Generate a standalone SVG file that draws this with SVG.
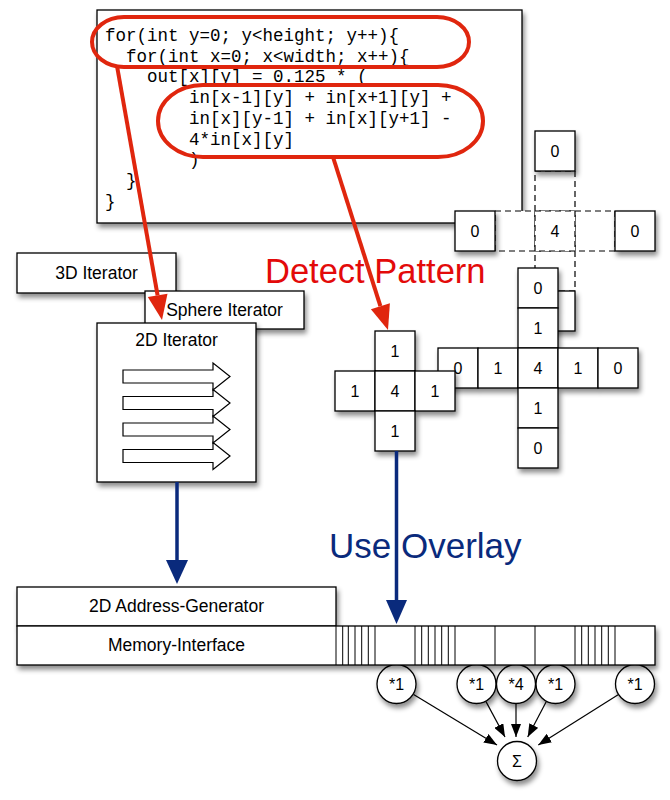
<svg xmlns="http://www.w3.org/2000/svg" width="670" height="800" viewBox="0 0 670 800">
<defs>
<filter id="sh" x="-20%" y="-20%" width="150%" height="150%">
<feDropShadow dx="2" dy="4" stdDeviation="2.5" flood-color="#000" flood-opacity="0.45"/>
</filter>
<marker id="ah" markerUnits="userSpaceOnUse" markerWidth="14" markerHeight="10" refX="13" refY="5" orient="auto">
<path d="M0,0 L13,5 L0,10 z" fill="#000"/>
</marker>
</defs>
<style>
.box{fill:#fff;stroke:#000;stroke-width:1.3}
.cell{fill:#fff;stroke:#000;stroke-width:1.3}
.dash{fill:#fff;stroke:#000;stroke-width:1.2;stroke-dasharray:6 4}
.lbl{font-family:"Liberation Sans",Arial,sans-serif;font-size:17.5px;text-anchor:middle;fill:#000}
.num{font-family:"Liberation Sans",Arial,sans-serif;font-size:16px;text-anchor:middle;fill:#000}
.code{font-family:"Liberation Mono","Courier New",monospace;font-size:17.5px;fill:#000}
.red{stroke:#e0260e;stroke-width:4;fill:none}
.blue{stroke:#0a2a7c;stroke-width:3.5;fill:none}
.strip{stroke:#000;stroke-width:1}
.thin{stroke:#000;stroke-width:1.2;fill:none}
</style>

<g id="code">
<rect class="box" x="97" y="10" width="425" height="213" filter="url(#sh)"/>
<text class="code" x="105" y="41">for(int y=0; y&lt;height; y++){</text>
<text class="code" x="126" y="61.7">for(int x=0; x&lt;width; x++){</text>
<text class="code" x="147" y="82.4">out[x][y] = 0.125 * (</text>
<text class="code" x="189" y="103.1">in[x-1][y] + in[x+1][y] +</text>
<text class="code" x="189" y="123.8">in[x][y-1] + in[x][y+1] -</text>
<text class="code" x="189" y="144.5">4*in[x][y]</text>
<text class="code" x="189" y="165.2">)</text>
<text class="code" x="126" y="185.9">}</text>
<text class="code" x="105" y="206.6">}</text>
</g>

<g id="cross3d">
<rect class="dash" x="535" y="171" width="40" height="40"/>
<rect class="dash" x="495" y="211" width="40" height="40"/>
<rect class="dash" x="575" y="211" width="40" height="40"/>
<rect class="dash" x="535" y="251" width="40" height="40"/>
<rect class="dash" x="535" y="211" width="40" height="40"/>
<text class="num" x="555" y="237">4</text>
<g filter="url(#sh)">
<rect class="cell" x="535" y="131" width="40" height="40"/>
<rect class="cell" x="455" y="211" width="40" height="40"/>
<rect class="cell" x="615" y="211" width="40" height="40"/>
<rect class="cell" x="535" y="291" width="40" height="40"/>
</g>
<text class="num" x="555" y="157">0</text>
<text class="num" x="475" y="237">0</text>
<text class="num" x="635" y="237">0</text>
</g>

<g id="cross5">
<g filter="url(#sh)">
<rect class="cell" x="518" y="268" width="40" height="40"/>
<rect class="cell" x="518" y="308" width="40" height="40"/>
<rect class="cell" x="438" y="348" width="40" height="40"/>
<rect class="cell" x="478" y="348" width="40" height="40"/>
<rect class="cell" x="518" y="348" width="40" height="40"/>
<rect class="cell" x="558" y="348" width="40" height="40"/>
<rect class="cell" x="598" y="348" width="40" height="40"/>
<rect class="cell" x="518" y="388" width="40" height="40"/>
<rect class="cell" x="518" y="428" width="40" height="40"/>
</g>
<text class="num" x="538" y="294">0</text>
<text class="num" x="538" y="334">1</text>
<text class="num" x="458" y="374">0</text>
<text class="num" x="498" y="374">1</text>
<text class="num" x="538" y="374">4</text>
<text class="num" x="578" y="374">1</text>
<text class="num" x="618" y="374">0</text>
<text class="num" x="538" y="414">1</text>
<text class="num" x="538" y="454">0</text>
</g>

<g id="cross3">
<g filter="url(#sh)">
<rect class="cell" x="375" y="331" width="40" height="40"/>
<rect class="cell" x="335" y="371" width="40" height="40"/>
<rect class="cell" x="375" y="371" width="40" height="40"/>
<rect class="cell" x="415" y="371" width="40" height="40"/>
<rect class="cell" x="375" y="411" width="40" height="40"/>
</g>
<text class="num" x="395" y="357">1</text>
<text class="num" x="355" y="397">1</text>
<text class="num" x="395" y="397">4</text>
<text class="num" x="435" y="397">1</text>
<text class="num" x="395" y="437">1</text>
</g>

<g id="iter3d">
<rect class="box" x="17" y="253" width="159" height="40" filter="url(#sh)"/>
<text class="lbl" x="96.5" y="279">3D Iterator</text>
</g>
<g id="sphere">
<rect class="box" x="145" y="291" width="159" height="38" filter="url(#sh)"/>
<text class="lbl" x="224.5" y="316">Sphere Iterator</text>
</g>
<g id="iter2d">
<rect class="box" x="97" y="323" width="159" height="159" filter="url(#sh)"/>
<text class="lbl" x="176.5" y="346">2D Iterator</text>
<g class="thin">
<polygon fill="#fff" points="123,370 213,370 213,363 230,376.5 213,390 213,383 123,383"/>
<polygon fill="#fff" points="123,396.5 213,396.5 213,389.5 230,403 213,416.5 213,409.5 123,409.5"/>
<polygon fill="#fff" points="123,423 213,423 213,416 230,429.5 213,443 213,436 123,436"/>
<polygon fill="#fff" points="123,449.5 213,449.5 213,442.5 230,456 213,469.5 213,462.5 123,462.5"/>
</g>
</g>

<g id="circles">
<g filter="url(#sh)">
<circle class="cell" cx="396.5" cy="684" r="19.5"/>
<circle class="cell" cx="476.5" cy="684" r="19.5"/>
<circle class="cell" cx="516" cy="684" r="19.5"/>
<circle class="cell" cx="555.5" cy="684" r="19.5"/>
<circle class="cell" cx="635" cy="684" r="19.5"/>
<circle class="cell" cx="517" cy="761" r="19.5"/>
</g>
<text class="num" x="396.5" y="690">*1</text>
<text class="num" x="476.5" y="690">*1</text>
<text class="num" x="516" y="690">*4</text>
<text class="num" x="555.5" y="690">*1</text>
<text class="num" x="635" y="690">*1</text>
<text class="num" x="517" y="767" font-size="17">Σ</text>
</g>

<g id="addrgen">
<rect class="box" x="17" y="587" width="319" height="39" filter="url(#sh)"/>
<text class="lbl" x="176.5" y="612">2D Address-Generator</text>
</g>
<g id="meminterface">
<rect class="box" x="17" y="626" width="638" height="39" filter="url(#sh)"/>
<text class="lbl" x="176.5" y="651">Memory-Interface</text>
<g class="strip">
<line x1="336" y1="626" x2="336" y2="665"/>
<line x1="342.7" y1="626" x2="342.7" y2="665"/>
<line x1="348.3" y1="626" x2="348.3" y2="665"/>
<line x1="355" y1="626" x2="355" y2="665"/>
<line x1="361.7" y1="626" x2="361.7" y2="665"/>
<line x1="368.3" y1="626" x2="368.3" y2="665"/>
<line x1="375" y1="626" x2="375" y2="665"/>
<line x1="415" y1="626" x2="415" y2="665"/>
<line x1="421.7" y1="626" x2="421.7" y2="665"/>
<line x1="428.3" y1="626" x2="428.3" y2="665"/>
<line x1="435" y1="626" x2="435" y2="665"/>
<line x1="441.7" y1="626" x2="441.7" y2="665"/>
<line x1="448.3" y1="626" x2="448.3" y2="665"/>
<line x1="455" y1="626" x2="455" y2="665"/>
<line x1="495" y1="626" x2="495" y2="665"/>
<line x1="535" y1="626" x2="535" y2="665"/>
<line x1="575" y1="626" x2="575" y2="665"/>
<line x1="581.7" y1="626" x2="581.7" y2="665"/>
<line x1="588.3" y1="626" x2="588.3" y2="665"/>
<line x1="595" y1="626" x2="595" y2="665"/>
<line x1="601.7" y1="626" x2="601.7" y2="665"/>
<line x1="608.3" y1="626" x2="608.3" y2="665"/>
<line x1="615" y1="626" x2="615" y2="665"/>
</g>
</g>

<g id="connectors">
<rect class="red" x="92" y="17" width="377" height="50" rx="32" ry="25"/>
<rect class="red" x="158" y="85" width="325" height="72" rx="45" ry="36"/>
<line class="red" x1="117" y1="66" x2="157.6" y2="295.4"/>
<polygon fill="#e0260e" points="162,320 167.5,293.7 147.8,297.1"/>
<line class="red" x1="333" y1="157" x2="380.4" y2="306.2"/>
<polygon fill="#e0260e" points="388,330 389.9,303.2 370.9,309.2"/>
<text x="265" y="283" font-family="'Liberation Sans',Arial,sans-serif" font-size="34.5" fill="#e30a0a">Detect Pattern</text>
<text x="329" y="558" font-family="'Liberation Sans',Arial,sans-serif" font-size="35" fill="#0a2a7c">Use Overlay</text>
<line class="blue" x1="177" y1="482" x2="177" y2="561"/>
<polygon fill="#0a2a7c" points="166,560 188,560 177,584"/>
<line class="blue" x1="396.5" y1="451" x2="396.5" y2="601"/>
<polygon fill="#0a2a7c" points="386,600 407,600 396.5,624"/>
<line class="thin" x1="413.6" y1="694.4" x2="497" y2="745" marker-end="url(#ah)"/>
<line class="thin" x1="486" y1="701.6" x2="505" y2="737" marker-end="url(#ah)"/>
<line class="thin" x1="516" y1="704" x2="516" y2="737" marker-end="url(#ah)"/>
<line class="thin" x1="546.2" y1="701.7" x2="527.7" y2="737" marker-end="url(#ah)"/>
<line class="thin" x1="618.1" y1="694.7" x2="538.3" y2="745" marker-end="url(#ah)"/>
</g>
</svg>
